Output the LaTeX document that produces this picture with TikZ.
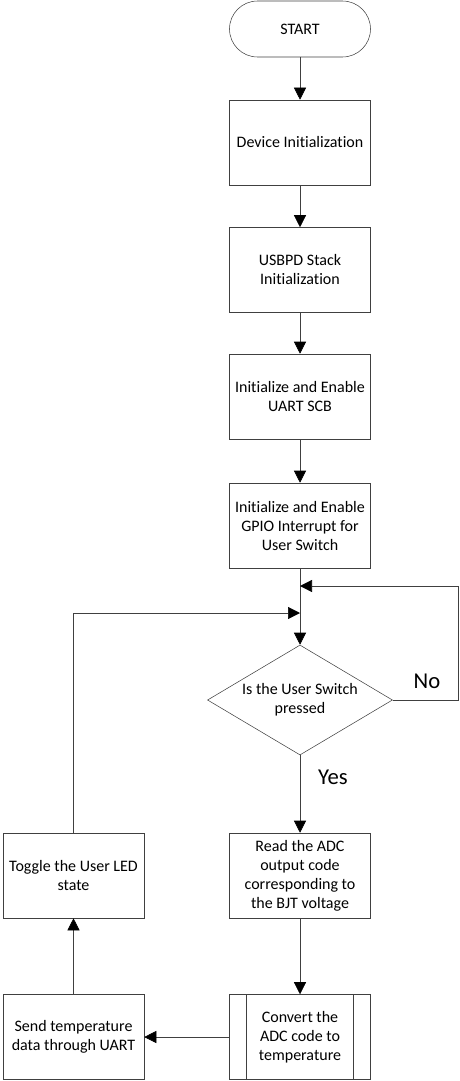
\documentclass[tikz,border=0pt]{standalone}
\usepackage{fontspec}
\setmainfont[Ligatures=NoCommon]{Carlito}
\usetikzlibrary{arrows.meta,shapes.geometric}

\begin{document}
\begin{tikzpicture}[x=0.75pt,y=-0.75pt,>={Triangle[length=9pt,width=9pt,color=black]},font=\fontsize{12}{14.25}\selectfont]
				\tikzstyle{box}=[draw=black!75,shape=rectangle,minimum width=105.75pt,minimum height=63.75pt,align=center,inner sep=2pt]
				\tikzstyle{term}=[draw=black!75,shape=rectangle,rounded corners=21pt,minimum width=105.75pt,minimum height=42pt]
				\tikzstyle{decision}=[draw=black!75,shape=diamond,aspect=1.68,minimum width=138.75pt,minimum height=82.5pt,align=center,inner sep=0pt]
				\tikzstyle{subproc}=[box,path picture={
						\draw[black!75] ([xshift=12.75pt]path picture bounding box.north west) -- ([xshift=12.75pt]path picture bounding box.south west);
						\draw[black!75] ([xshift=-12.75pt]path picture bounding box.north east) -- ([xshift=-12.75pt]path picture bounding box.south east);}]
				\tikzstyle{flow}=[draw=black!75,thin]
				
				\useasboundingbox (0,0) rectangle (460,1081);
				
				\node[term](start) at (300,29){START};
				\node[box](devinit) at (300,142.5){Device Initialization};
				\node[box](usbpd) at (300,270){USBPD Stack\\Initialization};
				\node[box](uart) at (300,396.5){Initialize and Enable\\UART SCB};
				\node[box](gpio) at (300,525.5){Initialize and Enable\\GPIO Interrupt for\\User Switch};
				
				\node[decision](switch) at (300,700){Is the User Switch\\pressed};
				
				\node[box](readadc) at (300,875.5){Read the ADC\\output code\\corresponding to\\the BJT voltage};
				\node[subproc](convert) at (300,1037){Convert the\\ADC code to\\temperature};
				
				\node[box](toggle) at (73.5,875.5){Toggle the User LED\\state};
				\node[box](send) at (73.5,1037){Send temperature\\data through UART};
				
				\coordinate (noloop) at (458,700);
				\coordinate (nojoin) at (300,586);
				\coordinate (ledjoin) at (300,613);
				
				\draw[flow,->] (start) -- (devinit);
				\draw[flow,->] (devinit) -- (usbpd);
				\draw[flow,->] (usbpd) -- (uart);
				\draw[flow,->] (uart) -- (gpio);
				\draw[flow,->] (gpio) -- (switch);
				
				\draw[flow,->] (switch.east) -- (noloop) |- (nojoin);
				\draw[flow,->] (switch) -- (readadc);
				\draw[flow,->] (readadc) -- (convert);
				\draw[flow,->] (convert) -- (send);
				\draw[flow,->] (send) -- (toggle);
				\draw[flow,->] (toggle.north) |- (ledjoin);
				
				\node[font=\fontsize{17}{19}\selectfont](no) at (427,681){No};
				\node[font=\fontsize{17}{19}\selectfont](yes) at (333,777){Yes};
\end{tikzpicture}
\end{document}
